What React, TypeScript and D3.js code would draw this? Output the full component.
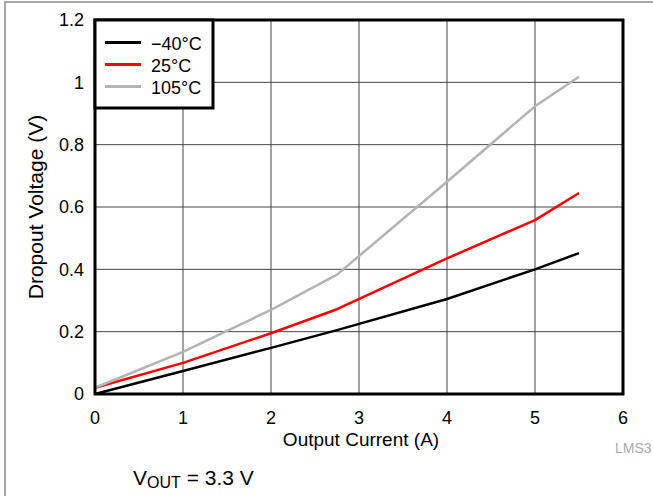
import React from "react";
import * as d3 from "d3";

const current = [0, 1, 2, 2.75, 4, 5, 5.5];
const vMinus40 = [0, 0.074, 0.148, 0.205, 0.305, 0.4, 0.452];
const v25 = [0.02, 0.1, 0.195, 0.272, 0.435, 0.558, 0.645];
const v105 = [0.02, 0.135, 0.27, 0.383, 0.681, 0.923, 1.018];
const seriesNames = ["\u221240\u00b0C", "25\u00b0C", "105\u00b0C"];
const seriesColors = ["#000000", "#ff0000", "#b3b3b3"];
const xTicks = [0, 1, 2, 3, 4, 5, 6];
const yTicks = [0, 0.2, 0.4, 0.6, 0.8, 1, 1.2];

export default function App() {
  const W = 653, H = 496;
  const L = 95, R = 623, T = 20, B = 394;
  const x = d3.scaleLinear().domain([0, 6]).range([L, R]);
  const y = d3.scaleLinear().domain([0, 1.2]).range([B, T]);
  const line = d3.line<[number, number]>().x(d => x(d[0])).y(d => y(d[1]));
  const series = [vMinus40, v25, v105];
  const font = "'Liberation Sans', Arial, Helvetica, sans-serif";
  return (
    <svg width={W} height={H} style={{ position: "absolute", left: 0, top: 0 }} fontFamily={font}>
      <rect x={5} y={2} width={700} height={600} fill="#fff" stroke="#888" strokeWidth={1.5} />
      {xTicks.slice(1, -1).map(t => (
        <line key={"gx" + t} x1={x(t)} x2={x(t)} y1={T} y2={B} stroke="#444" strokeWidth={1} />
      ))}
      {yTicks.slice(1, -1).map(t => (
        <line key={"gy" + t} x1={L} x2={R} y1={y(t)} y2={y(t)} stroke="#444" strokeWidth={1} />
      ))}
      {series.map((s, i) => (
        <path key={"s" + i} d={line(current.map((c, j) => [c, s[j]] as [number, number])) || ""}
          fill="none" stroke={seriesColors[i]} strokeWidth={2.5} strokeLinejoin="round" />
      ))}
      <rect x={L} y={T} width={R - L} height={B - T} fill="none" stroke="#000" strokeWidth={3} />
      <rect x={L} y={T} width={118} height={88} fill="#fff" stroke="#000" strokeWidth={3} />
      {seriesNames.map((n, i) => (
        <g key={"lg" + i}>
          <line x1={105} x2={141} y1={42.5 + i * 22} y2={42.5 + i * 22} stroke={seriesColors[i]} strokeWidth={3} />
          <text x={151} y={44 + i * 21.8} dy="0.35em" fontSize={18} fill="#000">{n}</text>
        </g>
      ))}
      {yTicks.map(t => (
        <text key={"yt" + t} x={84} y={y(t)} dy="0.35em" textAnchor="end" fontSize={18}>{t}</text>
      ))}
      {xTicks.map(t => (
        <text key={"xt" + t} x={x(t)} y={417.5} dy="0.35em" textAnchor="middle" fontSize={18}>{t}</text>
      ))}
      <text x={361} y={446} textAnchor="middle" fontSize={19}>Output Current (A)</text>
      <text transform={`translate(43,207) rotate(-90)`} textAnchor="middle" fontSize={21}>Dropout Voltage (V)</text>
      <text x={615} y={448} dy="0.35em" fontSize={14} fill="#aaa">LMS3</text>
      <text x={133} y={485} fontSize={21}>
        V<tspan fontSize={16} dy="2.5">OUT</tspan><tspan dy="-2.5"> = 3.3 V</tspan>
      </text>
    </svg>
  );
}
